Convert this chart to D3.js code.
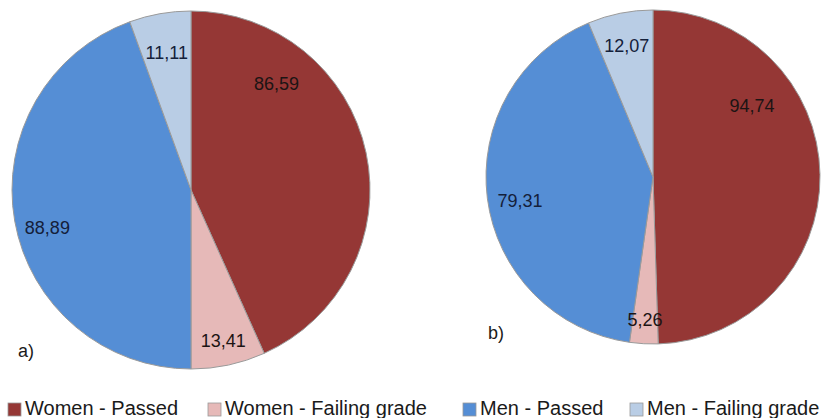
<!DOCTYPE html>
<html>
<head>
<meta charset="utf-8">
<script src="https://cdn.jsdelivr.net/npm/d3@7"></script>
<style>
  html, body { margin: 0; padding: 0; background: #fff; }
  svg { display: block; }
</style>
</head>
<body>
<svg id="chart" width="825" height="418"></svg>
<script>
// Categories shared by both pies
const categories = ["Women - Passed", "Women - Failing grade", "Men - Passed", "Men - Failing grade"];
const colors = ["#953735", "#e6b9b8", "#558ed5", "#b9cde5"];

// Percentages for each group
const valuesA = [86.59, 13.41, 88.89, 11.11];
const valuesB = [94.74, 5.26, 79.31, 12.07];
const panelLabels = ["a)", "b)"];

// Layout of the two panels
const panels = [
  { values: valuesA, label: panelLabels[0], cx: 191, cy: 190, r: 179, lx: 18, ly: 357,
    // label placement per slice: t = fraction along the slice's angle, k = fraction of radius
    place: [{ t: 0.25, k: 0.76 }, { t: 0.5, k: 0.86 }, { t: 0.47, k: 0.83 }, { t: 0.5, k: 0.78 }] },
  { values: valuesB, label: panelLabels[1], cx: 653, cy: 177, r: 167, lx: 488, ly: 339,
    place: [{ t: 0.305, k: 0.73 }, { t: 0.5, k: 0.86 }, { t: 0.48, k: 0.81 }, { t: 0.5, k: 0.80 }] }
];

// Left edge of each legend entry
const legendX = [8, 208, 463, 630];

const labelColors = ["#1c1414", "#1c1414", "#14203a", "#14203a"];
const fmt = v => v.toFixed(2).replace(".", ",");

const svg = d3.select("#chart");
const font = "'Liberation Sans', Arial, sans-serif";

const pie = d3.pie().sort(null).value(d => d);

panels.forEach(p => {
  const g = svg.append("g").attr("transform", `translate(${p.cx},${p.cy})`);
  const arc = d3.arc().innerRadius(0).outerRadius(p.r);
  const arcs = pie(p.values);

  g.selectAll("path.slice")
    .data(arcs)
    .join("path")
    .attr("class", "slice")
    .attr("d", arc)
    .attr("fill", (d, i) => colors[i])
    .attr("stroke", "#9a9a9a")
    .attr("stroke-width", 1);

  g.selectAll("text.val")
    .data(arcs)
    .join("text")
    .attr("class", "val")
    .attr("transform", (d, i) => {
      const pl = p.place[i];
      const a = d.startAngle + (d.endAngle - d.startAngle) * pl.t;
      const rr = p.r * pl.k;
      return `translate(${Math.sin(a) * rr},${-Math.cos(a) * rr})`;
    })
    .attr("text-anchor", "middle")
    .attr("dominant-baseline", "central")
    .attr("font-family", font)
    .attr("font-size", 18)
    .attr("fill", (d, i) => labelColors[i])
    .text(d => fmt(d.data));

  svg.append("text")
    .attr("x", p.lx)
    .attr("y", p.ly)
    .attr("font-family", font)
    .attr("font-size", 18)
    .attr("fill", "#1a1a1a")
    .text(p.label);
});

// Legend along the bottom
const legend = svg.append("g");
categories.forEach((c, i) => {
  const x = legendX[i];
  legend.append("rect")
    .attr("x", x).attr("y", 403)
    .attr("width", 13).attr("height", 13)
    .attr("fill", colors[i])
    .attr("stroke", "#9a9a9a").attr("stroke-width", 0.8);
  legend.append("text")
    .attr("x", x + 17).attr("y", 415)
    .attr("font-family", font)
    .attr("font-size", 20)
    .attr("fill", "#1a1a1a")
    .text(c);
});
</script>
</body>
</html>
